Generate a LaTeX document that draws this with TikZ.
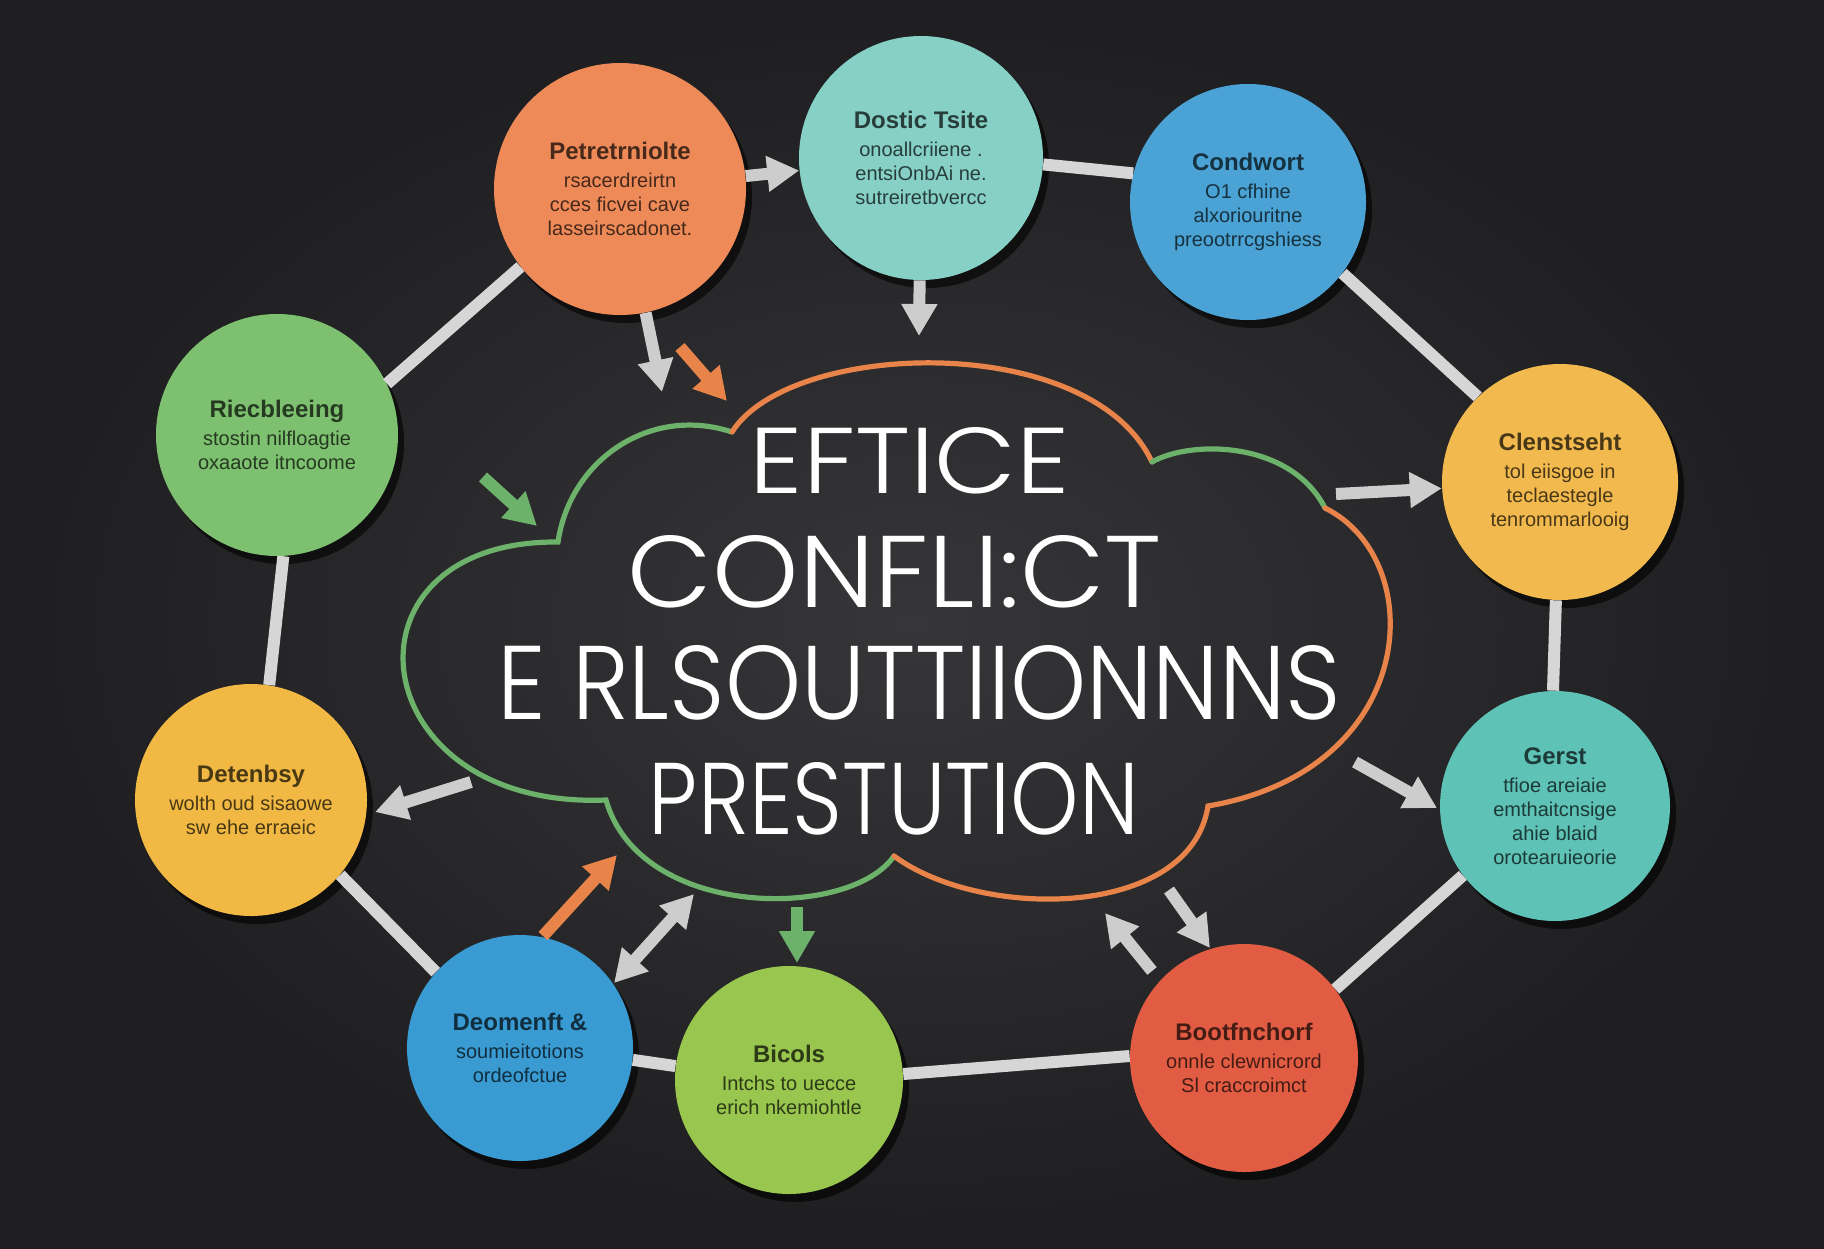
\documentclass[tikz,border=0pt]{standalone}
\usepackage{fontspec}
\usepackage{graphicx}
\setsansfont{Liberation Sans}
\IfFontExistsTF{Poppins Light}
  {\newfontfamily\boardfont{Poppins Light}}
  {\newfontfamily\boardfont{Poppins}}
\usetikzlibrary{arrows.meta,shadows}

\definecolor{boardin}{HTML}{363638}
\definecolor{boardout}{HTML}{1E1E20}
\definecolor{petorange}{HTML}{EE8A58}
\definecolor{dosteal}{HTML}{86D0C6}
\definecolor{condblue}{HTML}{4AA3D4}
\definecolor{ricbgreen}{HTML}{7DC06F}
\definecolor{clenyellow}{HTML}{F2BA4E}
\definecolor{detyellow}{HTML}{F1B944}
\definecolor{gerstteal}{HTML}{5EC2B6}
\definecolor{deomblue}{HTML}{3A9BD2}
\definecolor{bicgreen}{HTML}{98C64E}
\definecolor{bootred}{HTML}{E25C43}
\definecolor{rimorange}{HTML}{E8844A}
\definecolor{rimgreen}{HTML}{6DB26A}
\definecolor{linkgray}{HTML}{D6D6D6}
\definecolor{arrowgray}{HTML}{CDCDCD}

\begin{document}
\begin{tikzpicture}[
  x=0.5pt, y=-0.5pt,
  bubble/.style={circle, fill=#1, inner sep=0pt, align=center, font=\sffamily,
    text=#1!30!black, drop shadow={shadow xshift=3pt, shadow yshift=-4pt, fill=black, opacity=.6}},
  link/.style={line width=6pt, draw=linkgray},
  pointer/.style={line width=6pt, draw=#1, -{Triangle[length=16pt,width=17pt]}},
  chalk/.style={text=white, inner sep=0pt, font=\boardfont},
  rim/.style={line width=2.6pt, draw=#1, line cap=round}
]

% --- Board ---
\useasboundingbox (0,0) rectangle (1824,1248);
\shade[inner color=boardin, outer color=boardout] (0,0) rectangle (1824,1248);

% --- Cloud outline ---
\coordinate (j1) at (732,432);
\coordinate (j2) at (1152,462);
\coordinate (j3) at (1325,508);
\coordinate (j4) at (1208,806);
\coordinate (j5) at (894,856);
\coordinate (j6) at (606,800);
\coordinate (j7) at (558,542);

\draw[rim=rimgreen] (j5) .. controls (850,920) and (640,920) .. (j6)
  .. controls (360,810) and (330,540) .. (j7)
  .. controls (570,460) and (650,405) .. (j1);
\draw[rim=rimorange] (j1) .. controls (790,340) and (1090,330) .. (j2);
\draw[rim=rimgreen] (j2) .. controls (1190,440) and (1290,440) .. (j3);
\draw[rim=rimorange] (j3) .. controls (1430,560) and (1420,770) .. (j4)
  .. controls (1190,920) and (980,920) .. (j5);

% --- Title ---
\node[chalk] (t1) at (910,461) {\resizebox{160pt}{33pt}{EFTICE}};
\node[chalk] (t2) at (895,572) {\resizebox{267pt}{36pt}{CONFLI:CT}};
\node[chalk] (t3) at (919,683) {\resizebox{422pt}{37pt}{E RLSOUTTIIONNNS}};
\node[chalk] (t4) at (894,799) {\resizebox{245pt}{36pt}{PRESTUTION}};

% --- Circles ---
\node[bubble=petorange, minimum size=126pt] (pet) at (620,189)
  {\textbf{\large Petretrniolte}\\[2pt] rsacerdreirtn\\ cces ficvei cave\\ lasseirscadonet.};
\node[bubble=dosteal, minimum size=122pt] (dos) at (921,158)
  {\textbf{\large Dostic Tsite}\\[2pt] onoallcriiene .\\ entsiOnbAi ne.\\ sutreiretbvercc};
\node[bubble=condblue, minimum size=118pt] (cond) at (1248,202)
  {\textbf{\large Condwort}\\[2pt] O1 cfhine\\ alxoriouritne\\ preootrrcgshiess};
\node[bubble=ricbgreen, minimum size=121pt] (ricb) at (277,435)
  {\textbf{\large Riecbleeing}\\[2pt] stostin nilfloagtie\\ oxaaote itncoome};
\node[bubble=clenyellow, minimum size=118pt] (clen) at (1560,482)
  {\textbf{\large Clenstseht}\\[2pt] tol eiisgoe in\\ teclaestegle\\ tenrommarlooig};
\node[bubble=detyellow, minimum size=116pt] (det) at (251,800)
  {\textbf{\large Detenbsy}\\[2pt] wolth oud sisaowe\\ sw ehe erraeic};
\node[bubble=gerstteal, minimum size=115pt] (gerst) at (1555,806)
  {\textbf{\large Gerst}\\[2pt] tfioe areiaie\\ emthaitcnsige\\ ahie blaid\\ orotearuieorie};
\node[bubble=deomblue, minimum size=113pt] (deom) at (520,1048)
  {\textbf{\large Deomenft \&}\\[2pt] soumieitotions\\ ordeofctue};
\node[bubble=bicgreen, minimum size=114pt] (bic) at (789,1080)
  {\textbf{\large Bicols}\\[2pt] Intchs to uecce\\ erich nkemiohtle};
\node[bubble=bootred, minimum size=114pt] (boot) at (1244,1058)
  {\textbf{\large Bootfnchorf}\\[2pt] onnle clewnicrord\\ Sl craccroimct};

% --- Ring of links ---
\draw[link] (ricb.25) -- (pet.218);
\draw[link] (dos.-3) -- (cond.166);
\draw[link] (cond.-37) -- (clen.134);
\draw[link] (clen.-92) -- (gerst.91);
\draw[link] (gerst.217) -- (boot.37);
\draw[link] (boot.179) -- (bic.3);
\draw[link] (bic.173) -- (deom.-6);
\draw[link] (deom.138) -- (det.-40);
\draw[link] (det.81) -- (ricb.-87);

% --- Arrows ---
\coordinate (dosTip) at (919,336);
\coordinate (petTip) at (662,392);
\coordinate (oraA) at (680,347);
\coordinate (oraB) at (727,401);
\coordinate (grnA) at (483,477);
\coordinate (grnB) at (537,526);
\coordinate (clenTail) at (1336,494);
\coordinate (gerTail) at (1355,762);
\coordinate (gerTip) at (1437,808);
\coordinate (detTail) at (471,782);
\coordinate (detTip) at (375,812);
\coordinate (oraC) at (543,936);
\coordinate (oraD) at (617,855);
\coordinate (dblA) at (614,983);
\coordinate (dblB) at (694,894);
\coordinate (grnC) at (797,907);
\coordinate (grnD) at (797,963);
\coordinate (bootTailA) at (1169,890);
\coordinate (bootTipA) at (1210,948);
\coordinate (bootTailB) at (1152,971);
\coordinate (bootTipB) at (1105,913);

\draw[pointer=arrowgray] (pet) -- (dos);
\draw[pointer=arrowgray] (dos) -- (dosTip);
\draw[pointer=arrowgray] (pet) -- (petTip);
\draw[pointer=rimorange] (oraA) -- (oraB);
\draw[pointer=rimgreen] (grnA) -- (grnB);
\draw[pointer=arrowgray] (clenTail) -- (clen);
\draw[pointer=arrowgray] (gerTail) -- (gerTip);
\draw[pointer=arrowgray] (detTail) -- (detTip);
\draw[pointer=rimorange] (oraC) -- (oraD);
\draw[pointer=arrowgray, {Triangle[length=16pt,width=17pt]}-{Triangle[length=16pt,width=17pt]}] (dblA) -- (dblB);
\draw[pointer=rimgreen] (grnC) -- (grnD);
\draw[pointer=arrowgray] (bootTailA) -- (bootTipA);
\draw[pointer=arrowgray] (bootTailB) -- (bootTipB);

\end{tikzpicture}
\end{document}
